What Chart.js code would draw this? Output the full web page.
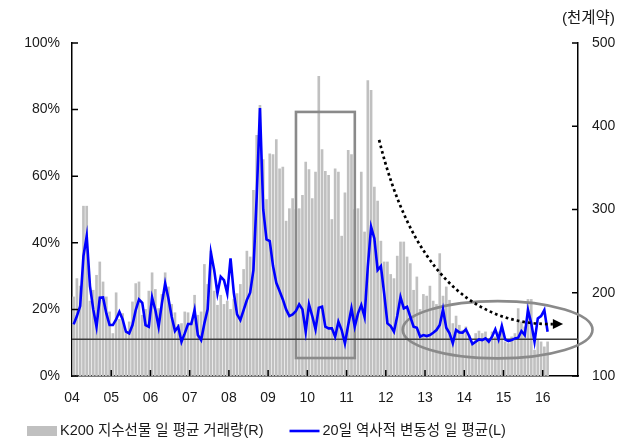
<!DOCTYPE html>
<html>
<head>
<meta charset="utf-8">
<script src="https://cdn.jsdelivr.net/npm/chart.js@4/dist/chart.umd.min.js"></script>
<style>
  html, body { margin: 0; padding: 0; background: #fff; }
  canvas { display: block; }
</style>
</head>
<body>
<canvas id="chart" width="622" height="442"></canvas>
<script>
// Monthly series, Jan 2004 .. Feb 2016
const startYear = 2004;

// K200 index futures, average daily volume (thousand contracts, right axis)
const volume = [
  195, 217, 208, 304, 304, 190, 203, 221, 237, 213, 195, 177,
  151, 200, 168, 175, 152, 165, 189, 211, 213, 173, 180, 202,
  224, 204, 181, 198, 224, 207, 186, 176, 162, 163, 177, 176,
  165, 197, 173, 177, 234, 210, 250, 202, 185, 197, 186, 190,
  180, 192, 199, 210, 228, 250, 243, 323, 389, 425, 360, 312,
  367, 366, 384, 349, 351, 286, 301, 313, 300, 301, 317, 357,
  348, 313, 345, 460, 372, 346, 341, 288, 349, 345, 268, 320,
  371, 366, 300, 301, 345, 273, 455, 443, 327, 310, 262, 237,
  237, 222, 217, 244, 261, 261, 243, 235, 203, 219, 180, 198,
  196, 208, 190, 186, 247, 196, 207, 191, 163, 172, 161, 155,
  159, 149, 141, 151, 154, 151, 153, 145, 153, 147, 153, 159,
  141, 139, 147, 151, 181, 165, 159, 192, 192, 131, 143, 141,
  135, 141
];

// 20-day historical volatility, monthly average (%, left axis)
const volatility = [
  15.5, 18, 21, 36, 42, 27, 20, 14.8, 23.5, 23.6, 18.8, 15.3,
  15.3, 17, 19.3, 17, 13.3, 12.8, 15.3, 19.8, 23, 22, 15.3, 14.8,
  23.6, 19.8, 14.8, 21.8, 27.8, 23.3, 17.8, 13.5, 14.8, 10.3, 12.8, 15.6,
  15.6, 19.8, 12.3, 10.8, 15.8, 20, 37, 31.8, 24.8, 29.8, 28.8, 24.8,
  35.3, 25, 18.5, 16.8, 19.8, 22.8, 25, 31.8, 53.8, 80.5, 50, 41,
  40.5, 33, 28, 25.5, 23, 20, 18, 18.5, 19.5, 21.5, 20, 13.3,
  21.5, 18, 14, 20.5, 20.8, 14.8, 14.3, 14.3, 11.8, 16.3, 13.8, 9.8,
  15.3, 20.3, 14.8, 18.8, 21.3, 17.8, 32.8, 44.8, 41.3, 31.8, 33, 24.8,
  15.8, 15, 13.3, 18, 23.7, 20.3, 20.8, 17.8, 14.8, 14.5, 11.8, 12.3,
  12, 12.3, 13, 13.8, 15.3, 20, 14.5, 12.8, 9.8, 13.8, 13.1, 13,
  14, 12, 9.6, 10.3, 11, 10.8, 11.3, 10.3, 11.8, 14, 11, 15,
  11, 10.5, 10.8, 11.3, 11.5, 13.5, 12.3, 19.8, 15.8, 10.3, 17.3, 18,
  19.8, 13.3
];

// Long-run reference level of volatility (%)
const volatilityFloor = 11;

const yearLabels = ['04', '05', '06', '07', '08', '09', '10', '11', '12', '13', '14', '15', '16'];
const seriesNames = ['K200 지수선물 일 평균 거래량(R)', '20일 역사적 변동성 일 평균(L)'];
const unitLabel = '(천계약)';

const xMin = 2004, xMax = 2016.9;

// position of a month on the year axis (middle of the month)
const monthPos = i => startYear + (i + 0.5) / 12;

const volumePoints = volume.map((v, i) => ({ x: monthPos(i), y: v }));
const volPoints = volatility.map((v, i) => ({ x: monthPos(i), y: v }));
const floorPoints = [{ x: xMin, y: volatilityFloor }, { x: xMax, y: volatilityFloor }];

// Highlight shapes, in axis units (year, % on the left axis)
const highlightBox = { x0: 2009.71, x1: 2011.21, y0: 79.3, y1: 5.4 };
const highlightEllipse = { cx: 2014.85, cy: 13.9, rx: 2.42, ry: 8.6 };
const trendArrow = { x0: 2011.83, y0: 70.9, cx: 2013.0, cy: 15.0, x1: 2016.26, y1: 15.6, tip: 2016.52 };

const FONT = "'Liberation Sans', 'Noto Sans CJK KR', Arial, sans-serif";
const TEXT = '#1a1a1a';
const BAR_COLOR = '#c0c0c0';
const LINE_COLOR = '#0000ff';

// inward tick marks on all three axes
const axisTicks = {
  id: 'axisTicks',
  afterDraw(chart) {
    const { ctx, chartArea: a, scales } = chart;
    ctx.save();
    ctx.strokeStyle = '#000';
    ctx.lineWidth = 1.5;
    ctx.beginPath();
    scales.x.ticks.forEach(t => {
      const px = scales.x.getPixelForValue(t.value);
      if (px > a.left + 2 && px < a.right - 2) { ctx.moveTo(px, a.bottom); ctx.lineTo(px, a.bottom - 6); }
    });
    scales.yL.ticks.forEach(t => {
      const py = scales.yL.getPixelForValue(t.value);
      ctx.moveTo(a.left, py); ctx.lineTo(a.left + 6, py);
    });
    scales.yR.ticks.forEach(t => {
      const py = scales.yR.getPixelForValue(t.value);
      ctx.moveTo(a.right, py); ctx.lineTo(a.right - 6, py);
    });
    ctx.stroke();
    ctx.restore();
  }
};

// box and ellipse over the bars, under the lines; dotted trend arrow on top
const highlights = {
  id: 'highlights',
  afterDatasetDraw(chart, args) {
    if (args.index !== 0) return;
    const { ctx, scales: { x, yL } } = chart;
    ctx.save();
    ctx.strokeStyle = '#8a8a8a';
    ctx.lineWidth = 2.6;
    const bx0 = x.getPixelForValue(highlightBox.x0), bx1 = x.getPixelForValue(highlightBox.x1);
    const by0 = yL.getPixelForValue(highlightBox.y0), by1 = yL.getPixelForValue(highlightBox.y1);
    ctx.strokeRect(bx0, by0, bx1 - bx0, by1 - by0);
    const ecx = x.getPixelForValue(highlightEllipse.cx), ecy = yL.getPixelForValue(highlightEllipse.cy);
    const erx = x.getPixelForValue(highlightEllipse.cx + highlightEllipse.rx) - ecx;
    const ery = ecy - yL.getPixelForValue(highlightEllipse.cy + highlightEllipse.ry);
    ctx.beginPath();
    ctx.ellipse(ecx, ecy, erx, ery, 0, 0, Math.PI * 2);
    ctx.stroke();
    ctx.restore();
  },
  afterDatasetsDraw(chart) {
    const { ctx, scales: { x, yL } } = chart;
    const p0x = x.getPixelForValue(trendArrow.x0), p0y = yL.getPixelForValue(trendArrow.y0);
    const cpx = x.getPixelForValue(trendArrow.cx), cpy = yL.getPixelForValue(trendArrow.cy);
    const p1x = x.getPixelForValue(trendArrow.x1), p1y = yL.getPixelForValue(trendArrow.y1);
    const tipx = x.getPixelForValue(trendArrow.tip);
    ctx.save();
    ctx.strokeStyle = '#000';
    ctx.lineWidth = 2.7;
    ctx.setLineDash([2.7, 3]);
    ctx.beginPath();
    ctx.moveTo(p0x, p0y);
    ctx.quadraticCurveTo(cpx, cpy, p1x, p1y);
    ctx.stroke();
    ctx.setLineDash([]);
    ctx.fillStyle = '#000';
    ctx.beginPath();
    ctx.moveTo(tipx, p1y);
    ctx.lineTo(p1x, p1y - 5);
    ctx.lineTo(p1x, p1y + 5);
    ctx.closePath();
    ctx.fill();
    ctx.restore();
  }
};

// one-row legend under the axis: swatch, then the series name
const legendRow = {
  id: 'legendRow',
  afterDraw(chart, args, opts) {
    const { ctx } = chart;
    const items = [
      { ds: chart.data.datasets[0], kind: 'box' },
      { ds: chart.data.datasets[2], kind: 'line' }
    ];
    ctx.save();
    ctx.font = `${opts.fontSize}px ${FONT}`;
    ctx.textBaseline = 'middle';
    ctx.textAlign = 'left';
    let x = opts.x;
    const y = opts.y;
    items.forEach(({ ds, kind }) => {
      if (kind === 'box') {
        ctx.fillStyle = ds.backgroundColor;
        ctx.fillRect(x, y - opts.boxHeight / 2, opts.swatch, opts.boxHeight);
      } else {
        ctx.strokeStyle = ds.borderColor;
        ctx.lineWidth = ds.borderWidth;
        ctx.beginPath();
        ctx.moveTo(x, y);
        ctx.lineTo(x + opts.swatch, y);
        ctx.stroke();
      }
      x += opts.swatch + opts.textGap;
      ctx.fillStyle = TEXT;
      ctx.fillText(ds.label, x, y);
      x += ctx.measureText(ds.label).width + opts.itemGap;
    });
    ctx.restore();
  }
};

new Chart(document.getElementById('chart'), {
  type: 'bar',
  data: {
    datasets: [
      {
        type: 'bar',
        label: seriesNames[0],
        data: volumePoints,
        yAxisID: 'yR',
        backgroundColor: BAR_COLOR,
        barThickness: 2,
        order: 3
      },
      {
        type: 'line',
        label: 'floor',
        data: floorPoints,
        yAxisID: 'yL',
        borderColor: '#3c3c3c',
        borderWidth: 1.5,
        pointRadius: 0,
        order: 2
      },
      {
        type: 'line',
        label: seriesNames[1],
        data: volPoints,
        yAxisID: 'yL',
        borderColor: LINE_COLOR,
        borderWidth: 2.6,
        pointRadius: 0,
        tension: 0,
        order: 1
      }
    ]
  },
  options: {
    responsive: false,
    animation: false,
    layout: { padding: { left: 0, right: 7, top: 0, bottom: 0 } },
    plugins: {
      tooltip: { enabled: false },
      legend: { display: false },
      legendRow: { x: 27, y: 431, swatch: 30, boxHeight: 10, textGap: 3, itemGap: 26, fontSize: 14.5 },
      title: {
        display: true,
        text: unitLabel,
        align: 'end',
        color: TEXT,
        font: { family: FONT, size: 15.5, weight: 'normal' },
        padding: { top: 9, bottom: 15.4 }
      }
    },
    scales: {
      x: {
        type: 'linear',
        min: xMin,
        max: xMax,
        offset: false,
        grid: { display: false, drawTicks: false },
        border: { display: true, color: '#000', width: 1.5 },
        ticks: {
          stepSize: 1,
          includeBounds: false,
          autoSkip: false,
          maxRotation: 0,
          padding: 14,
          color: TEXT,
          font: { family: FONT, size: 14 },
          callback: v => yearLabels[Math.round(v) - startYear]
        },
        afterFit: s => { s.height = 66; }
      },
      yL: {
        position: 'left',
        min: 0,
        max: 100,
        grid: { display: false, drawTicks: false },
        border: { display: true, color: '#000', width: 1.5 },
        ticks: {
          stepSize: 20,
          padding: 12,
          color: TEXT,
          font: { family: FONT, size: 14 },
          callback: v => v + '%'
        },
        afterFit: s => { s.width = 72; }
      },
      yR: {
        position: 'right',
        min: 100,
        max: 500,
        grid: { display: false, drawTicks: false },
        border: { display: true, color: '#000', width: 1.5 },
        ticks: {
          stepSize: 100,
          padding: 14,
          color: TEXT,
          font: { family: FONT, size: 14 }
        },
        afterFit: s => { s.width = 37; }
      }
    }
  },
  plugins: [highlights, axisTicks, legendRow]
});
</script>
</body>
</html>
